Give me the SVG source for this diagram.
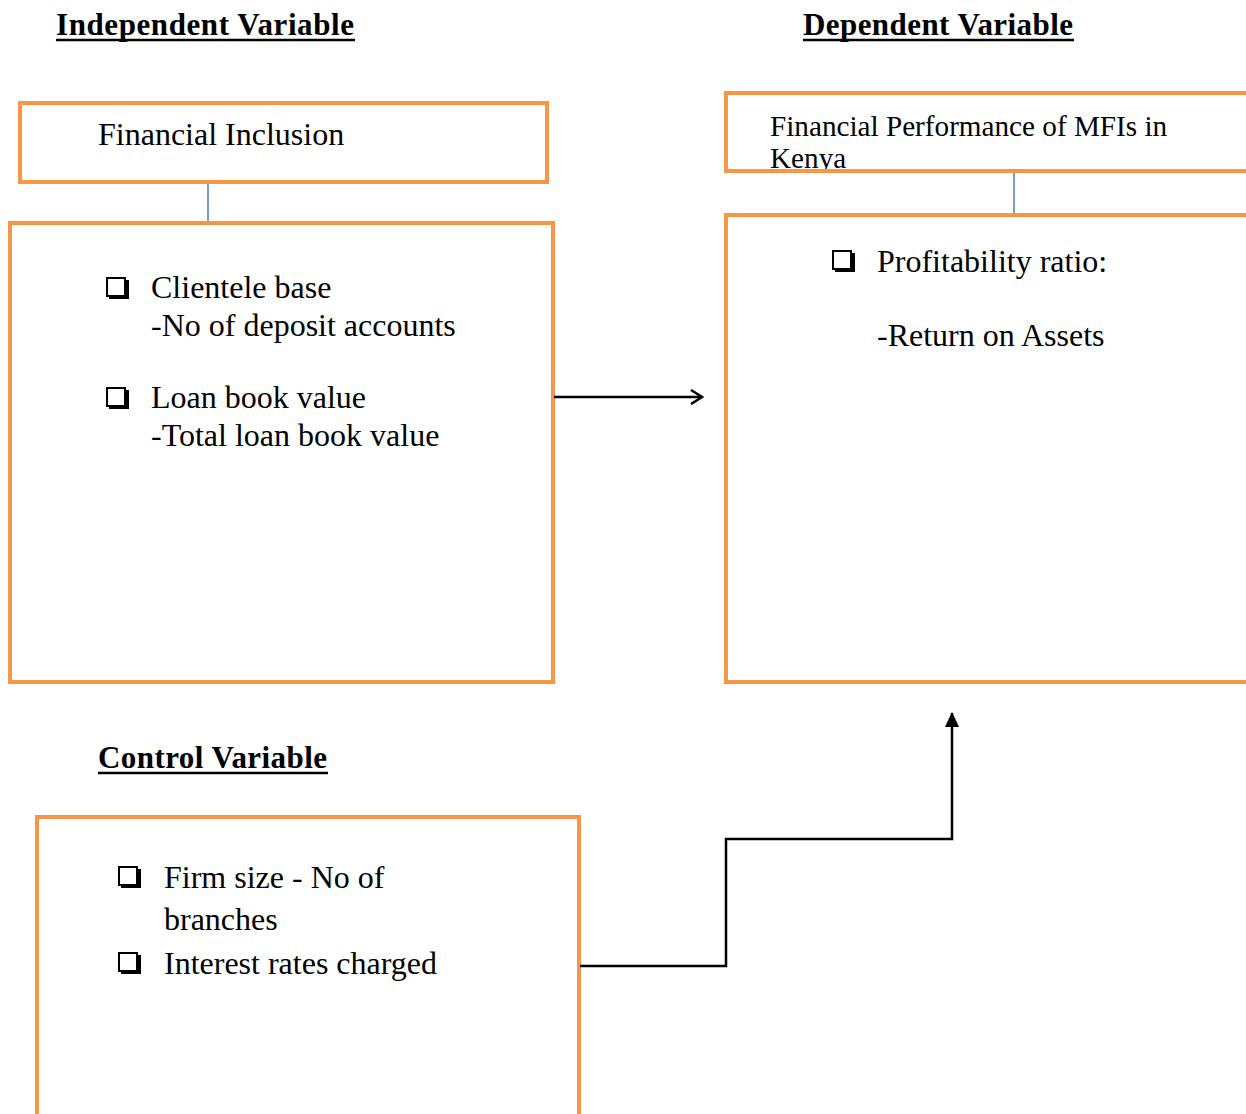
<svg xmlns="http://www.w3.org/2000/svg" xmlns:xlink="http://www.w3.org/1999/xlink" width="1246" height="1114" viewBox="0 0 1246 1114">
<style>
.title{font-family:"Liberation Serif","Times New Roman",serif;font-weight:bold;font-size:31px;fill:#000;}
.ul{stroke:#000;stroke-width:2.5;}
.t{font-family:"Liberation Serif","Times New Roman",serif;font-size:32px;fill:#000;}
.t2{font-family:"Liberation Serif","Times New Roman",serif;font-size:29.2px;fill:#000;}
.box{fill:none;stroke:#F79646;stroke-width:4;}
.blue{stroke:#4A7EBB;stroke-width:1.5;fill:none;}
.conn{stroke:#000;stroke-width:2.5;fill:none;}
</style>
<defs>
<g id="bullet">
<rect x="0" y="0" width="18" height="18" fill="#fff" stroke="#000" stroke-width="2"/>
<path d="M2 19.5 H20.5 V2" fill="none" stroke="#000" stroke-width="3"/>
</g>
<marker id="openArrow" markerWidth="14" markerHeight="16" refX="12" refY="8" orient="auto" markerUnits="userSpaceOnUse">
<path d="M1 1 L12 8 L1 15" fill="none" stroke="#000" stroke-width="2.5"/>
</marker>
<marker id="solidArrow" markerWidth="16" markerHeight="16" refX="14" refY="8" orient="auto" markerUnits="userSpaceOnUse">
<path d="M0 1 L15 8 L0 15 Z" fill="#000"/>
</marker>
<clipPath id="clipPerf"><rect x="726" y="93" width="520" height="78"/></clipPath>
</defs>

<g id="title-independent">
<text class="title" x="56" y="35" textLength="298">Independent  Variable</text>
<line class="ul" x1="56" y1="40" x2="355" y2="40"/>
</g>
<g id="title-dependent">
<text class="title" x="803" y="35" textLength="270">Dependent Variable</text>
<line class="ul" x1="803" y1="40" x2="1074" y2="40"/>
</g>
<g id="title-control">
<text class="title" x="98" y="768" textLength="229">Control Variable</text>
<line class="ul" x1="98" y1="773" x2="328" y2="773"/>
</g>

<g id="node-financial-inclusion">
<rect class="box" x="20" y="103" width="527" height="79"/>
<text class="t" x="98" y="145">Financial Inclusion</text>
</g>

<g id="node-inclusion-measures">
<rect class="box" x="10" y="223" width="543" height="459"/>
<use xlink:href="#bullet" x="107" y="278"/>
<text class="t" x="151" y="298">Clientele base</text>
<text class="t" x="151" y="336">-No of deposit accounts</text>
<use xlink:href="#bullet" x="107" y="388"/>
<text class="t" x="151" y="408">Loan book value</text>
<text class="t" x="151" y="446">-Total loan book value</text>
</g>

<g id="node-financial-performance">
<g clip-path="url(#clipPerf)">
<text class="t2" x="770" y="136">Financial Performance of MFIs in</text>
<text class="t2" x="770" y="168">Kenya</text>
</g>
<rect class="box" x="726" y="93" width="530" height="78"/>
</g>

<g id="node-performance-measures">
<rect class="box" x="726" y="215" width="530" height="467"/>
<use xlink:href="#bullet" x="833" y="251"/>
<text class="t" x="877" y="272">Profitability ratio:</text>
<text class="t" x="877" y="346">-Return on Assets</text>
</g>

<g id="node-control">
<rect class="box" x="37" y="817" width="542" height="310"/>
<use xlink:href="#bullet" x="119" y="867"/>
<text class="t" x="164" y="888">Firm size - No of</text>
<text class="t" x="164" y="930">branches</text>
<use xlink:href="#bullet" x="119" y="953"/>
<text class="t" x="164" y="974">Interest rates charged</text>
</g>

<g id="connectors">
<line class="blue" x1="208" y1="184" x2="208" y2="221"/>
<line class="blue" x1="1014" y1="173" x2="1014" y2="213"/>
<line class="conn" x1="554" y1="397" x2="702" y2="397" marker-end="url(#openArrow)"/>
<polyline class="conn" points="580,966 726,966 726,839 952,839 952,713" marker-end="url(#solidArrow)"/>
</g>
</svg>
